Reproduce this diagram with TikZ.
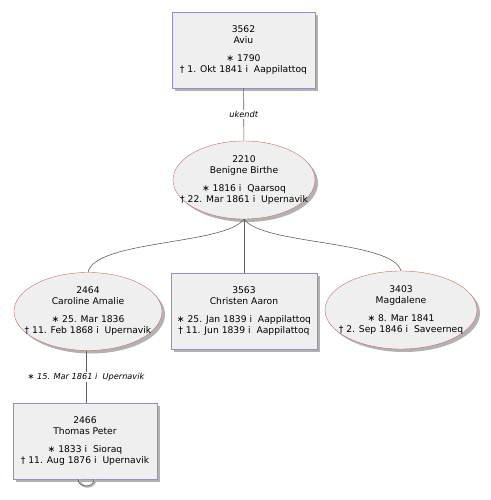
\documentclass[tikz,border=0pt]{standalone}
\usepackage{fontspec}
\setmainfont{DejaVu Sans}
\usetikzlibrary{shapes.geometric,shadows}
\definecolor{boxline}{HTML}{9090D0}
\definecolor{ovalline}{HTML}{C07070}
\definecolor{cellfill}{HTML}{EFEFEF}
\definecolor{wire}{HTML}{606060}
\begin{document}
\begin{tikzpicture}[x=1pt,y=-1pt,font=\fontsize{9.2}{11}\selectfont,
    person/.style={fill=cellfill,align=center,inner sep=1pt,
      drop shadow={shadow xshift=3pt,shadow yshift=-3pt,fill=black!30,opacity=1}},
    male/.style={person,draw=boxline,rectangle,minimum width=143pt,minimum height=76pt},
    female/.style={person,draw=ovalline,ellipse,minimum width=148pt,minimum height=78pt,inner sep=0pt},
    inside/.style={align=center,inner sep=0pt},
    wiring/.style={draw=wire,line width=0.6pt},
    tag/.style={font=\fontsize{8.2}{9}\itshape,fill=white,inner sep=1pt}]
  \useasboundingbox (0,0) rectangle (490,500);
  \node[male] (aviu) at (243.5,50) {3562\\Aviu\\[7pt]∗ 1790\\† 1. Okt 1841 i~ Aappilattoq};
  \node[female,minimum width=142pt,label={[inside]center:2210\\Benigne Birthe\\[7pt]∗ 1816 i~ Qaarsoq\\† 22. Mar 1861 i~ Upernavik}] (benigne) at (244,180) {};
  \node[female,label={[inside]center:2464\\Caroline Amalie\\[7pt]∗ 25. Mar 1836\\† 11. Feb 1868 i~ Upernavik}] (caroline) at (88,311.5) {};
  \node[male,minimum width=146pt] (christen) at (244,311) {3563\\Christen Aaron\\[7pt]∗ 25. Jan 1839 i~ Aappilattoq\\† 11. Jun 1839 i~ Aappilattoq};
  \node[female,minimum width=152pt,label={[inside]center:3403\\Magdalene\\[7pt]∗ 8. Mar 1841\\† 2. Sep 1846 i~ Saveerneq}] (magdalene) at (401,310) {};
  \node[male,minimum width=144pt] (thomas) at (85,441) {2466\\Thomas Peter\\[7pt]∗ 1833 i~ Sioraq\\† 11. Aug 1876 i~ Upernavik};
  % parents to children
  \draw[wiring] (aviu) -- node[tag] {ukendt} (benigne);
  \draw[wiring] (benigne.south) .. controls (225,245) and (95,240) .. (caroline.north);
  \draw[wiring] (benigne.south) -- (christen.north);
  \draw[wiring] (benigne.south) .. controls (262,245) and (392,240) .. (magdalene.north);
  \draw[wiring] (caroline.south -| 86,0) -- node[tag] {∗ 15. Mar 1861 i~ Upernavik} (thomas.north -| 86,0);
  % loop under the last box
  \coordinate (loopa) at ([xshift=-7pt]thomas.south);
  \coordinate (loopb) at ([xshift=9pt]thomas.south);
  \draw[black!30,line width=2pt] ([xshift=1.5pt]loopa) .. controls +(0,10) and +(0,10) .. ([xshift=1.5pt]loopb);
  \draw[wiring] (loopa) .. controls +(0,9) and +(0,9) .. (loopb);
\end{tikzpicture}
\end{document}
